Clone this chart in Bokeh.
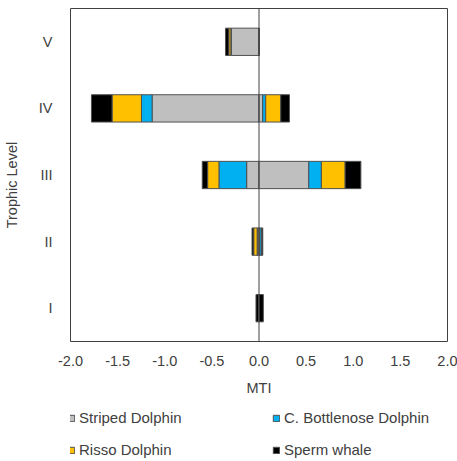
import math
from bokeh.plotting import figure
from bokeh.layouts import column
from bokeh.models import (ColumnDataSource, FactorRange, Range1d, Span, Legend,
                          LegendItem, FixedTicker, NumeralTickFormatter)
from bokeh.embed import file_html
from bokeh.resources import INLINE

# ---- data ----
levels = ["I", "II", "III", "IV", "V"]
species = ["Striped Dolphin", "C. Bottlenose Dolphin", "Risso Dolphin", "Sperm whale"]
striped_neg = [0.0, -0.020, -0.131, -1.134, -0.294]
bottlenose_neg = [0.0, 0.0, -0.294, -0.113, -0.005]
risso_neg = [0.0, -0.036, -0.120, -0.312, -0.021]
sperm_neg = [-0.032, -0.018, -0.057, -0.219, -0.035]
striped_pos = [0.0, 0.010, 0.528, 0.039, 0.0]
bottlenose_pos = [0.0, 0.018, 0.134, 0.032, 0.0]
risso_pos = [0.0, 0.0, 0.252, 0.160, 0.0]
sperm_pos = [0.046, 0.012, 0.167, 0.092, 0.0]
x_ticks = [-2.0, -1.5, -1.0, -0.5, 0.0, 0.5, 1.0, 1.5, 2.0]

colors = ["#BFBFBF", "#00B0F0", "#FFC000", "#000000"]
FONT = "Liberation Sans"
TXT = "#404040"
EDGE = "#505050"

src = ColumnDataSource(dict(
    level=levels,
    s_neg=striped_neg, b_neg=bottlenose_neg, r_neg=risso_neg, k_neg=sperm_neg,
    s_pos=striped_pos, b_pos=bottlenose_pos, r_pos=risso_pos, k_pos=sperm_pos,
))

p = figure(width=457, height=400, y_range=FactorRange(*levels), x_range=Range1d(-2, 2),
           output_backend="svg", toolbar_location=None,
           min_border_left=70, min_border_right=10, min_border_top=8, min_border_bottom=59)

neg = p.hbar_stack(["s_neg", "b_neg", "r_neg", "k_neg"], y="level", height=0.41,
                   color=colors, line_color=EDGE, line_width=1, source=src)
pos = p.hbar_stack(["s_pos", "b_pos", "r_pos", "k_pos"], y="level", height=0.41,
                   color=colors, line_color=EDGE, line_width=1, source=src)

p.add_layout(Span(location=0, dimension="height", line_color="#404040", line_width=1))

p.outline_line_color = "#404040"
p.outline_line_width = 1
p.xgrid.visible = False
p.ygrid.visible = False

for ax in (p.xaxis, p.yaxis):
    ax.axis_line_color = None
    ax.major_tick_line_color = None
    ax.minor_tick_line_color = None
    ax.major_label_text_font = FONT
    ax.major_label_text_font_size = "14.5px"
    ax.major_label_text_color = TXT
    ax.axis_label_text_font = FONT
    ax.axis_label_text_font_size = "14.5px"
    ax.axis_label_text_font_style = "normal"
    ax.axis_label_text_color = TXT

p.xaxis.ticker = FixedTicker(ticks=x_ticks)
p.xaxis.formatter = NumeralTickFormatter(format="0.0")
p.xaxis.major_label_standoff = 8
p.xaxis.axis_label = "MTI"
p.xaxis.axis_label_standoff = 11
p.yaxis.major_label_standoff = 12
p.yaxis.axis_label = "Trophic Level" + "\u00a0" * 5
p.yaxis.axis_label_standoff = 16

# ---- legend strip below the chart (same data, renderers hidden) ----
lg = figure(width=457, height=61, x_range=Range1d(-2, 2), y_range=FactorRange(*levels),
            output_backend="svg", toolbar_location=None,
            x_axis_type=None, y_axis_type=None,
            min_border_left=0, min_border_right=0, min_border_top=0, min_border_bottom=0)
lg.outline_line_color = None
lg.xgrid.visible = False
lg.ygrid.visible = False
swatches = lg.hbar_stack(["s_neg", "b_neg", "r_neg", "k_neg"], y="level", height=0.41,
                         color=colors, line_color=EDGE, line_width=1, source=src)
for r in swatches:
    r.visible = False

items = [LegendItem(label=species[i], renderers=[swatches[i]]) for i in range(4)]
legend = Legend(items=items, orientation="horizontal", ncols=2, location=(-3, 3),
                glyph_width=8, glyph_height=8, label_standoff=4, label_width=178,
                label_height=8, spacing=15, padding=0, margin=0,
                border_line_color=None, background_fill_alpha=0,
                inactive_fill_alpha=0,
                label_text_font=FONT, label_text_font_size="15px", label_text_color=TXT)
lg.add_layout(legend, "center")

layout = column(p, lg, spacing=0)
open("out.html", "w").write(file_html(layout, INLINE))
